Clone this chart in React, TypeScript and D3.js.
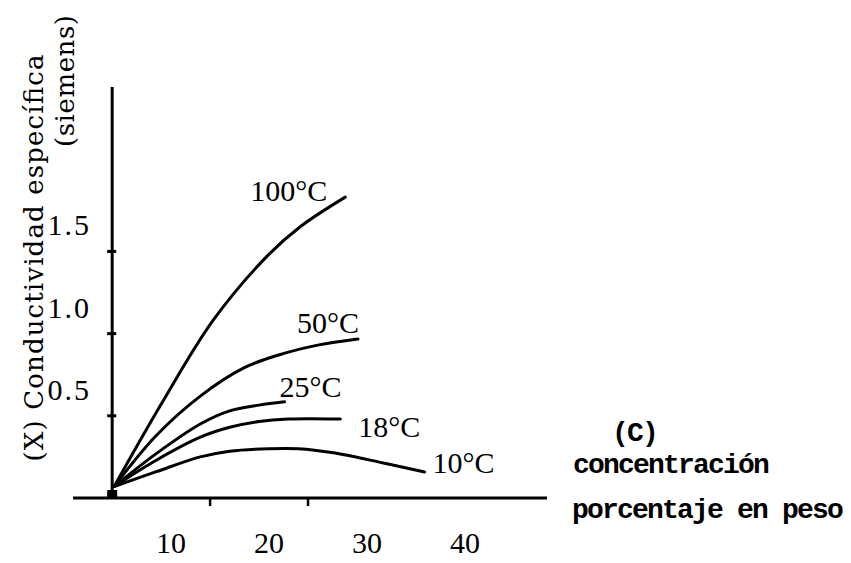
import React from 'react';
import * as d3 from 'd3';

// concentration (% by weight) and specific conductivity (siemens)
const pct100 = [0.2, 5, 10.3, 15.8, 19.2, 23.8];
const cond100 = [0.07, 0.57, 1.08, 1.47, 1.65, 1.83];
const pct50 = [0.2, 4.5, 9, 13.4, 17, 21, 25.1];
const cond50 = [0.07, 0.38, 0.62, 0.79, 0.87, 0.93, 0.967];
const pct25 = [0.2, 4.5, 9, 12, 15, 17.6];
const cond25 = [0.07, 0.27, 0.45, 0.53, 0.565, 0.585];
const pct18 = [0.2, 4.5, 9, 12, 15, 18, 23.3];
const cond18 = [0.07, 0.23, 0.37, 0.43, 0.465, 0.48, 0.48];
const pct10 = [0.2, 4.5, 9, 12, 16, 19, 22.6, 27.7, 31.9];
const cond10 = [0.07, 0.16, 0.25, 0.285, 0.3, 0.3, 0.275, 0.213, 0.158];

const seriesNames = ['100°C', '50°C', '25°C', '18°C', '10°C'];
const seriesPct = [pct100, pct50, pct25, pct18, pct10];
const seriesCond = [cond100, cond50, cond25, cond18, cond10];

const xTicks = [10, 20];
const xTickLabels = [10, 20, 30, 40];
const yTicks = [0.5, 1.0, 1.5];

// label offsets (px) from each curve's last point
const labelOffsets = [[-95, 4], [-61, -6], [-5, -5], [18, 18], [8, 1]];

const W = 851, H = 563;

export default function App() {
  const x = d3.scaleLinear().domain([-4, 44.4]).range([73, 547]);
  const y = d3.scaleLinear().domain([0, 2.5]).range([498, 87]);

  const line = d3.line<[number, number]>()
    .x(d => x(d[0]))
    .y(d => y(d[1]))
    .curve(d3.curveCatmullRom.alpha(0.5));

  const serif = 'Liberation Serif, serif';
  const mono = 'Liberation Mono, monospace';

  return (
    <svg width={W} height={H} style={{ position: 'absolute', left: 0, top: 0, background: '#fff' }}>
      {/* axes */}
      <line x1={x(0)} x2={x(0)} y1={y(0)} y2={y(2.5)} stroke="#000" strokeWidth={3} />
      <line x1={x(-4)} x2={x(44.4)} y1={y(0)} y2={y(0)} stroke="#000" strokeWidth={3} />
      <rect x={x(0) - 5} y={y(0) - 8} width={10} height={8} fill="#000" />

      {yTicks.map(t => (
        <g key={'y' + t}>
          <line x1={x(0) - 5} x2={x(0) + 4} y1={y(t)} y2={y(t)} stroke="#000" strokeWidth={3} />
          <text x={91} y={y(t) - 16} textAnchor="end" fontFamily={serif} fontSize={30}
            letterSpacing={2}>{t.toFixed(1)}</text>
        </g>
      ))}

      {xTicks.map(t => (
        <line key={'x' + t} x1={x(t)} x2={x(t)} y1={y(0)} y2={y(0) + 8} stroke="#000" strokeWidth={2.5} />
      ))}
      {xTickLabels.map(t => (
        <text key={'xl' + t} x={x(t) - 39} y={553} textAnchor="middle" fontFamily={serif} fontSize={30}>{t}</text>
      ))}

      {/* curves */}
      {seriesNames.map((name, i) => {
        const pts = seriesPct[i].map((p, j) => [p, seriesCond[i][j]] as [number, number]);
        const last = pts[pts.length - 1];
        const [dx, dy] = labelOffsets[i];
        return (
          <g key={name}>
            <path d={line(pts) || ''} fill="none" stroke="#000" strokeWidth={3} strokeLinecap="round" />
            <text x={x(last[0]) + dx} y={y(last[1]) + dy} fontFamily={serif} fontSize={30}>{name}</text>
          </g>
        );
      })}

      {/* axis titles */}
      <text transform="translate(43,258) rotate(-90)" textAnchor="middle" fontFamily="DejaVu Serif, serif"
        fontSize={26} textLength={407} lengthAdjust="spacing">(X) Conductividad específica</text>
      <text transform="translate(74,81) rotate(-90)" textAnchor="middle" fontFamily="DejaVu Serif, serif"
        fontSize={26} textLength={132} lengthAdjust="spacing">(siemens)</text>

      <text x={612} y={441} fontFamily={mono} fontWeight="bold" fontSize={28} letterSpacing={-1.8}>(C)</text>
      <text x={573} y={473} fontFamily={mono} fontWeight="bold" fontSize={28} letterSpacing={-1.8}>concentración</text>
      <text x={572} y={518} fontFamily={mono} fontWeight="bold" fontSize={28} letterSpacing={-1.8}>porcentaje en peso</text>
    </svg>
  );
}
